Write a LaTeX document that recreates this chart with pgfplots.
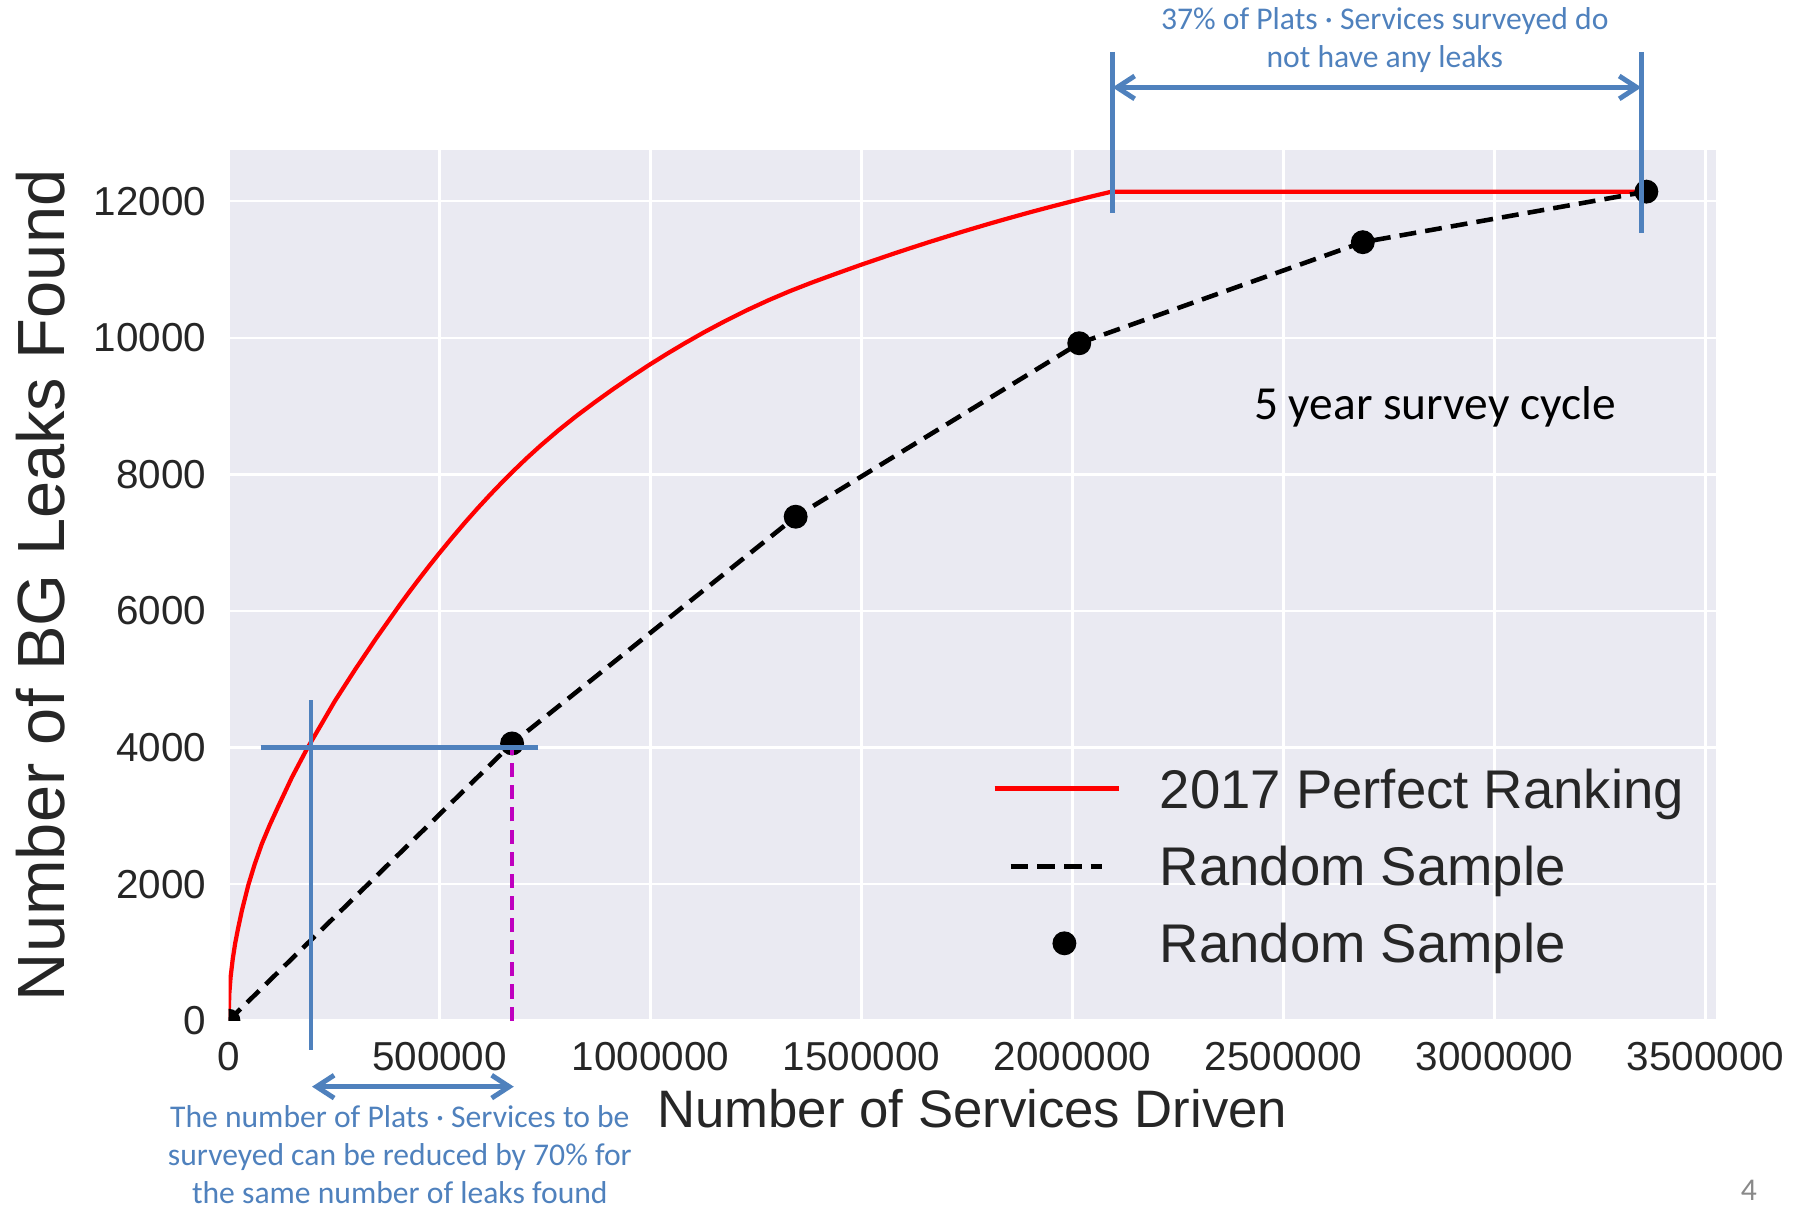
\documentclass[border=0pt]{standalone}
\usepackage{fontspec}
\setmainfont{Liberation Sans}
\newfontfamily\carlito{Carlito}
\usepackage{pgfplots}
\pgfplotsset{compat=1.18}
\usetikzlibrary{arrows.meta}
\definecolor{bgcol}{HTML}{EAEAF2}
\definecolor{txtcol}{HTML}{262626}
\definecolor{annblue}{HTML}{4F81BD}
\definecolor{magline}{RGB}{191,0,191}
\definecolor{pagegray}{RGB}{137,137,137}
\tikzset{
  annline/.style={draw=annblue, line width=1.4pt},
  annarrow/.style={annline, {Straight Barb[length=5pt,width=6.5pt]}-{Straight Barb[length=5pt,width=6.5pt]}},
  anntext/.style={text=annblue, font=\carlito\fontsize{9}{10.8}\selectfont, align=center, inner sep=0pt},
}
\begin{document}
\begin{tikzpicture}
\useasboundingbox (0,0) rectangle (18.02cm,12.07cm);
\begin{axis}[
  at={(2.285cm,1.863cm)}, anchor=south west,
  scale only axis, width=14.875cm, height=8.707cm,
  xmin=0, xmax=3525000, ymin=0, ymax=12750,
  axis background/.style={fill=bgcol},
  axis line style={draw=none},
  xmajorgrids, ymajorgrids,
  grid style={white, line width=0.7pt},
  major tick length=0pt,
  xtick={0,500000,1000000,1500000,2000000,2500000,3000000,3500000},
  ytick={0,2000,4000,6000,8000,10000,12000},
  scaled x ticks=false, scaled y ticks=false,
  /pgf/number format/assume math mode=true,
  /pgf/number format/fixed,
  /pgf/number format/1000 sep={},
  ticklabel style={text=txtcol, font=\fontsize{11.5}{13}\selectfont, inner sep=0pt},
  xticklabel style={anchor=north, yshift=-6pt},
  yticklabel style={anchor=east, xshift=-6.2pt},
  xlabel={Number of Services Driven},
  ylabel={Number of BG Leaks Found},
  xlabel style={at={(axis description cs:0.5,-0.1015)}, anchor=center, text=txtcol,
                font=\fontsize{15}{18}\selectfont, inner sep=0pt},
  ylabel style={at={(axis description cs:-0.1261,0.5)}, anchor=center, text=txtcol,
                font=\fontsize{19}{22}\selectfont, inner sep=0pt},
  legend style={draw=none, fill=none, at={(0.5129,0.1776)}, anchor=west,
                inner sep=0pt, row sep=3.65pt, text=txtcol,
                font=\fontsize{15.5}{18}\selectfont,
                nodes={inner sep=0pt, text height=14.7pt, text depth=3.63pt}},
  legend cell align=left,
  clip mode=individual,
  clip marker paths=true,
]
% perfect ranking curve
\addplot[red, line width=1.2pt,
  legend image code/.code={\draw[red, line width=1.4pt] (0cm,0cm) -- (1.24cm,0cm);
                           \path[draw=none, fill=none] (0cm,0cm) -- (1.653cm,0cm);}]
  coordinates {
  (0,0) (2000,400) (5000,640) (10000,900) (16000,1140) (23000,1360)
  (32000,1620) (47000,1987) (62000,2290) (79000,2590) (98000,2870)
  (118000,3140) (150000,3560) (185000,3970) (220000,4340) (252000,4680)
  (300000,5141) (350000,5600) (406000,6090) (428000,6275) (450000,6455)
  (475000,6655) (499000,6841) (530000,7074) (560000,7292) (590000,7501)
  (620000,7702) (646000,7869) (673000,8037) (706000,8233) (740000,8424)
  (783000,8651) (826000,8862) (868000,9056) (910000,9242) (953000,9424)
  (997000,9603) (1038000,9761) (1080000,9916) (1127000,10081) (1174000,10236)
  (1227000,10400) (1280000,10551) (1331000,10685) (1382000,10808)
  (1440000,10939) (1498000,11067) (1580000,11240) (1620000,11321)
  (1660000,11401) (1740000,11555) (1800000,11665) (1850000,11753)
  (1900000,11839) (1947000,11916) (1994000,11991) (2050000,12077)
  (2091000,12137) (3359000,12137)};
\addlegendentry{2017 Perfect Ranking}
% random sample line
\addplot[black, line width=1.3pt, dash pattern=on 4.8pt off 2.6pt,
  legend image code/.code={\draw[black, line width=1.4pt, dash pattern=on 5pt off 2.6pt]
                           (0.16cm,0cm) -- (1.075cm,0cm);
                           \path[draw=none, fill=none] (0cm,0cm) -- (1.653cm,0cm);}]
  coordinates {(0,0) (672000,4060) (1344000,7380) (2016000,9920) (2688000,11400) (3360000,12140)};
\addlegendentry{Random Sample}
% random sample points
\addplot[only marks, mark=*, mark size=3.2pt, black,
  legend image code/.code={\fill[black] (0.698cm,0cm) circle (3.2pt);
                           \path[draw=none, fill=none] (0cm,0cm) -- (1.653cm,0cm);}]
  coordinates {(0,0) (672000,4060) (1344000,7380) (2016000,9920) (2688000,11400) (3360000,12140)};
\addlegendentry{Random Sample}
\addplot[magline, line width=1.2pt, dash pattern=on 4pt off 2.3pt, forget plot]
  coordinates {(672000,0) (672000,4000)};

% annotations
\draw[annline] (axis cs:195500,4696) -- (axis cs:195500,-431);
\draw[annline] (axis cs:76000,4000) -- (axis cs:734000,4000);
\draw[annarrow] (axis cs:198000,-966) -- (axis cs:676000,-966);
\draw[annline] (axis cs:2095000,14188) -- (axis cs:2095000,11821);
\draw[annline] (axis cs:3348000,14188) -- (axis cs:3348000,11528);
\draw[annarrow] (axis cs:2095000,13666) -- (axis cs:3348000,13666);
\node[anntext] at (axis cs:2740000,14365) {37\% of Plats · Services surveyed do\\not have any leaks};
\node[anntext] at (axis cs:406000,-1966) {The number of Plats · Services to be\\surveyed can be reduced by 70\% for\\the same number of leaks found};
\node[font=\carlito\fontsize{13.5}{16}\selectfont, text=black, inner sep=0pt]
  at (axis cs:2859000,8990) {5 year survey cycle};
\node[font=\carlito\fontsize{9}{11}\selectfont, text=pagegray, inner sep=0pt]
  at (axis cs:3603000,-2482) {4};
\end{axis}
\end{tikzpicture}
\end{document}
